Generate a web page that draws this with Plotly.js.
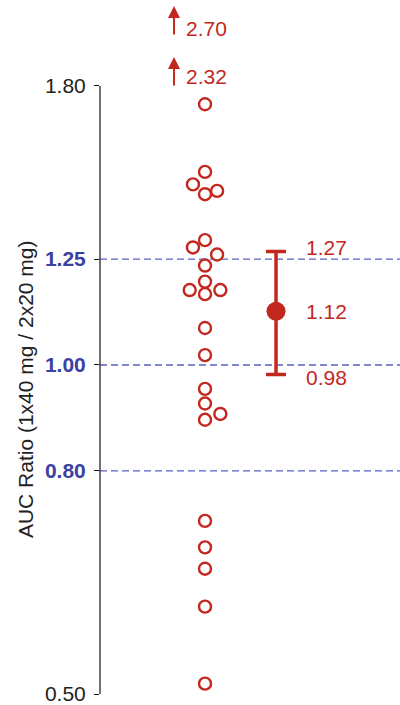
<!DOCTYPE html>
<html>
<head>
<meta charset="utf-8">
<script src="https://cdn.plot.ly/plotly-3.0.1.min.js"></script>
<style>html,body{margin:0;padding:0;background:#fff;}#chart{width:400px;height:705px;}</style>
</head>
<body>
<div id="chart"></div>
<script>
// ---- data ----
var ratios = [1.732, 1.502, 1.463, 1.443, 1.433, 1.301, 1.281, 1.262, 1.233, 1.192, 1.171, 1.171, 1.161, 1.081, 1.021, 0.951, 0.922, 0.902, 0.891, 0.720, 0.681, 0.651, 0.601, 0.511];
var swarmSlot = [0, 0, -1, 1, 0, 0, -1, 1, 0, 0, -1.27, 1.27, 0, 0, 0, 0, 0, 1.27, 0, 0, 0, 0, 0, 0];
var offScale = [2.32, 2.70];
var gmr = 1.12;
var ciLow = 0.98;
var ciHigh = 1.27;
var tickValues = [0.50, 0.80, 1.00, 1.25, 1.80];
var tickLabels = ['0.50', '0.80', '1.00', '1.25', '1.80'];
var refLines = [0.80, 1.00, 1.25];
var yTitle = 'AUC Ratio (1x40 mg / 2x20 mg)';

// ---- style ----
var RED = '#c3281f';
var BLUE = '#3a41a2';
var DASH = '#5a60c4';
var FONT = 'Liberation Sans, Arial, Helvetica, sans-serif';
var FS = 21;
var groupX = 1, summaryX = 2, slotWidth = 0.17;

var xs = ratios.map(function (v, i) { return groupX + swarmSlot[i] * slotWidth; });

var traces = [
  {
    type: 'scatter', mode: 'markers', x: xs, y: ratios, cliponaxis: false,
    marker: { symbol: 'circle', size: 12, color: '#ffffff', line: { color: RED, width: 2.4 } },
    hoverinfo: 'y'
  },
  {
    type: 'scatter', mode: 'markers', x: [summaryX], y: [gmr], cliponaxis: false,
    marker: { symbol: 'circle', size: 19, color: RED },
    error_y: { type: 'data', symmetric: false, array: [ciHigh - gmr], arrayminus: [gmr - ciLow],
      color: RED, thickness: 3.5, width: 10 },
    hoverinfo: 'y'
  }
];

var shapes = refLines.map(function (v) {
  return { type: 'line', xref: 'paper', x0: 0, x1: 1, yref: 'y', y0: v, y1: v, layer: 'below',
    line: { color: DASH, width: 1.3, dash: '7px,4px' } };
});
// axis spine only across the labelled range
shapes.push({ type: 'line', xref: 'paper', x0: 0, x1: 0, yref: 'y', y0: tickValues[0], y1: tickValues[tickValues.length - 1],
  line: { color: '#111', width: 1.2 } });

var annotations = [];
function lab(v, txt, dy) {
  annotations.push({ xref: 'x', yref: 'y', x: summaryX, y: Math.log10(v), text: txt, showarrow: false,
    xanchor: 'left', yanchor: 'middle', xshift: 28, yshift: dy, font: { family: FONT, size: FS, color: RED } });
}
lab(ciHigh, ciHigh.toFixed(2), 4);
lab(gmr, gmr.toFixed(2), 0);
lab(ciLow, ciLow.toFixed(2), -3);

// off-scale values: arrows at top of column
var tipPaper = [0.926, 1.0];
var labelPaper = [0.898, 0.968];
offScale.forEach(function (v, i) {
  annotations.push({ xref: 'x', yref: 'paper', x: groupX, y: tipPaper[i], xshift: -31, text: '', showarrow: true,
    ax: 0, ay: 30, arrowhead: 2, arrowsize: 1.2, arrowwidth: 2, arrowcolor: RED, standoff: 0 });
  annotations.push({ xref: 'x', yref: 'paper', x: groupX, y: labelPaper[i], xshift: -21, text: v.toFixed(2), showarrow: false,
    xanchor: 'left', yanchor: 'middle', font: { family: FONT, size: FS, color: RED } });
});

// y title centred on the spine
annotations.push({ xref: 'paper', yref: 'paper', x: -0.25, y: 0.4448, text: yTitle, showarrow: false, textangle: -90,
  xanchor: 'center', yanchor: 'middle', font: { family: FONT, size: 21, color: '#222' } });

var blueSet = refLines.map(function (v) { return v.toFixed(2); });
var tickText = tickLabels.map(function (t) {
  return blueSet.indexOf(t) >= 0 ? '<b><span style="color:' + BLUE + '">' + t + '</span></b>' : t;
});

var layout = {
  width: 400, height: 705,
  margin: { l: 100, r: 0, t: 6, b: 9, pad: 0 },
  paper_bgcolor: '#ffffff', plot_bgcolor: '#ffffff',
  showlegend: false,
  font: { family: FONT, size: FS, color: '#222' },
  xaxis: { visible: false, range: [-0.479, 3.746], fixedrange: true },
  yaxis: {
    type: 'log', range: [Math.log10(0.5) - 2 / 1093, 0.32845],
    showline: false, showgrid: false, zeroline: false,
    tickmode: 'array', tickvals: tickValues, ticktext: tickText,
    ticks: 'outside', ticklen: 5, tickwidth: 1, tickcolor: '#111',
    ticklabelstandoff: 4, ticklabeloverflow: 'allow',
    tickfont: { family: FONT, size: FS, color: '#222' }
  },
  shapes: shapes,
  annotations: annotations
};

Plotly.newPlot('chart', traces, layout, { staticPlot: true, displayModeBar: false });
</script>
</body>
</html>
